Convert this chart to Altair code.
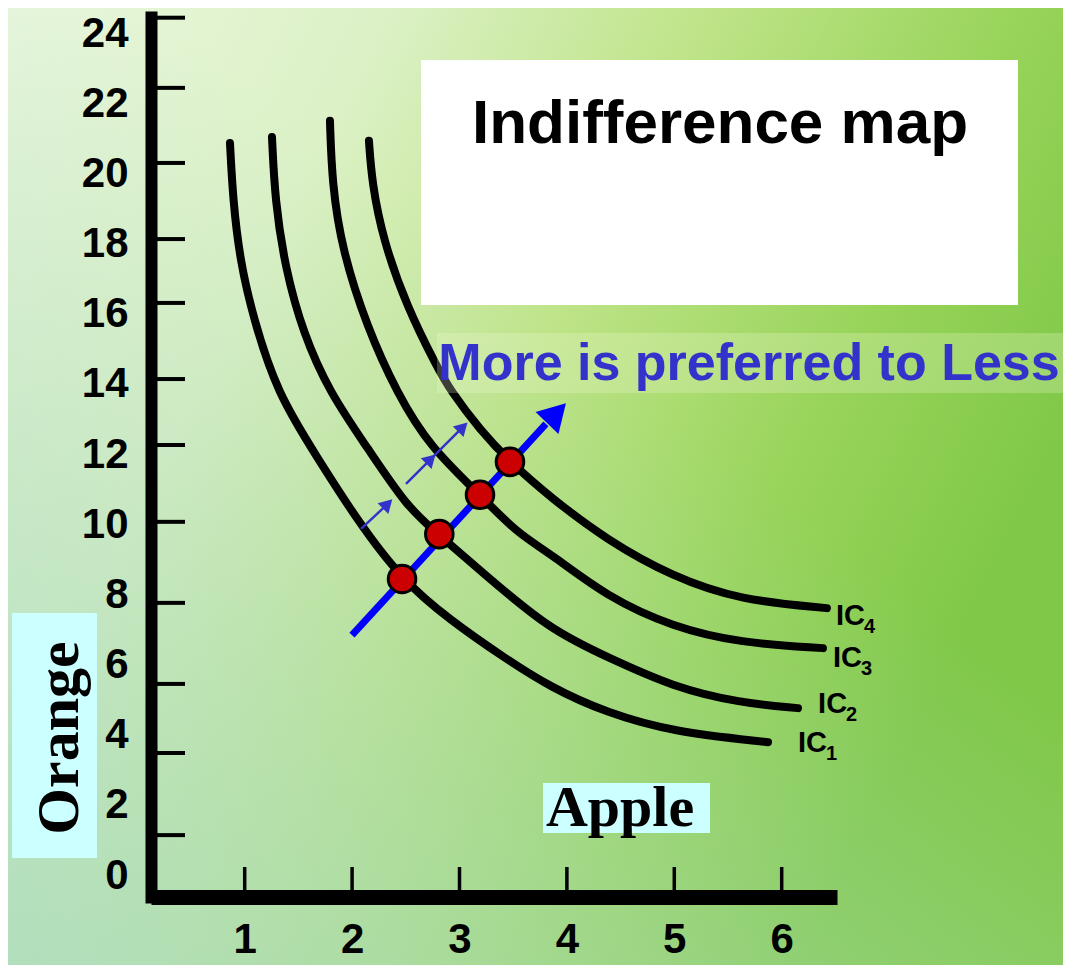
import altair as alt
import pandas as pd

# ---------------- data ----------------
ic1_x = [0.863, 0.891, 0.956, 1.077, 1.301, 1.673, 2.046, 2.465, 2.912, 3.405, 3.843, 4.374, 4.988, 5.873]
ic1_y = [20.81, 19.18, 17.47, 15.85, 13.68, 11.86, 10.06, 8.35, 7.21, 6.16, 5.30, 4.56, 4.02, 3.73]
ic2_x = [1.254, 1.282, 1.375, 1.543, 1.794, 2.139, 2.511, 2.800, 3.219, 3.842, 4.373, 4.988, 5.611, 6.152]
ic2_y = [20.98, 19.18, 17.27, 15.39, 13.68, 12.14, 10.43, 9.66, 8.55, 6.93, 6.16, 5.30, 4.85, 4.70]
ic3_x = [1.794, 1.813, 1.906, 2.139, 2.418, 2.725, 3.191, 3.535, 3.842, 4.373, 4.988, 5.611, 6.384]
ic3_y = [21.44, 19.67, 17.76, 15.56, 13.68, 12.14, 10.78, 9.69, 9.12, 7.87, 7.01, 6.56, 6.41]
ic4_x = [2.157, 2.185, 2.288, 2.511, 2.791, 2.912, 3.191, 3.470, 3.842, 4.373, 4.988, 5.611, 6.421]
ic4_y = [20.87, 19.67, 18.05, 16.13, 14.42, 13.77, 12.63, 11.72, 10.72, 9.49, 8.44, 7.78, 7.55]

bundle_x = [2.465, 2.812, 3.191, 3.470]
bundle_y = [8.38, 9.66, 10.78, 11.72]

big_arrow = {"x": [1.999], "y": [6.78], "x2": [3.805], "y2": [12.80]}
big_head = {"x": [3.903], "y": [13.11]}
small_arrows = {"x": [2.083, 2.502], "y": [9.81, 11.09], "x2": [2.290, 2.991], "y2": [10.40, 12.59]}
small_heads = {"x": [2.331, 2.733, 3.031], "y": [10.52, 11.80, 12.71]}

ic_label_x = [6.152, 6.339, 6.478, 6.506]
ic_label_y = [3.45, 4.56, 5.87, 7.07]
ic_names = ["IC", "IC", "IC", "IC"]
ic_subs = ["1", "2", "3", "4"]

x_tick_labels = [1, 2, 3, 4, 5, 6]
y_tick_labels = [0, 2, 4, 6, 8, 10, 12, 14, 16, 18, 20, 22, 24]
y_tick_marks = [1.08, 3.42, 5.39, 7.70, 10.01, 12.20, 14.08, 16.25, 18.07, 20.24, 22.38, 24.38]

title_text = "Indifference map"
note_text = "More is preferred to Less"
x_title = "Apple"
y_title = "Orange"

# ---------------- layout ----------------
W, H = 686, 880
PL, PT, PR, PB = 143, 9, 226, 68

x_scale = alt.Scale(domain=[0.1276, 6.515], nice=False, zero=False)
y_scale = alt.Scale(domain=[-0.684, 24.40], nice=False, zero=False)

lab_font = "Liberation Sans"
x_axis = alt.Axis(values=x_tick_labels, ticks=False, grid=False, title=None,
                  domainColor="black", domainWidth=15, domainCap="butt",
                  labelFont=lab_font, labelFontWeight="bold", labelFontSize=42,
                  labelColor="black", labelPadding=22, labelFlush=False,
                  labelOverlap=False, zindex=1)
y_axis = alt.Axis(values=y_tick_labels, ticks=False, grid=False, title=None,
                  domainColor="black", domainWidth=12, domainCap="square",
                  labelFont=lab_font, labelFontWeight="bold", labelFontSize=42,
                  labelColor="black", labelPadding=23, labelFlush=False,
                  labelOffset=2, labelOverlap=False, zindex=1)


def X(f="x"):
    return alt.X(f"{f}:Q", scale=x_scale, axis=x_axis)


def Y(f="y"):
    return alt.Y(f"{f}:Q", scale=y_scale, axis=y_axis)


one = pd.DataFrame({"a": [0]})

# background
bg = alt.Chart(one).mark_rect(
    fill=alt.Gradient(
        gradient="linear", x1=0, y1=0, x2=1, y2=0.45,
        stops=[
            alt.GradientStop(color="#eaf7de", offset=0),
            alt.GradientStop(color="#dcf1c6", offset=0.3),
            alt.GradientStop(color="#bfe489", offset=0.55),
            alt.GradientStop(color="#98d45a", offset=0.8),
            alt.GradientStop(color="#80c848", offset=1),
        ],
    )
).encode(x=alt.value(-PL), x2=alt.value(W + PR), y=alt.value(-PT), y2=alt.value(H + PB))

bg2 = alt.Chart(one).mark_rect(
    fill=alt.Gradient(
        gradient="linear", x1=0, y1=1, x2=0.55, y2=0.35,
        stops=[
            alt.GradientStop(color="rgba(172,220,190,0.85)", offset=0),
            alt.GradientStop(color="rgba(172,220,190,0)", offset=1),
        ],
    )
).encode(x=alt.value(-PL), x2=alt.value(W + PR), y=alt.value(-PT), y2=alt.value(H + PB))

# curves
rows = []
for name, xs, ys in [("IC1", ic1_x, ic1_y), ("IC2", ic2_x, ic2_y),
                     ("IC3", ic3_x, ic3_y), ("IC4", ic4_x, ic4_y)]:
    for a, b in zip(xs, ys):
        rows.append({"curve": name, "x": a, "y": b})
curves_df = pd.DataFrame(rows)

curves = alt.Chart(curves_df).mark_line(
    color="black", strokeWidth=8, strokeCap="round", interpolate="basis"
).encode(x=X(), y=Y(), detail="curve:N", order="x:Q")

# tick marks (inward)
ytick_df = pd.DataFrame({"y": y_tick_marks})
yticks = alt.Chart(ytick_df).mark_rule(color="black", strokeWidth=4).encode(
    y=Y(), x=alt.value(6), x2=alt.value(34))
xtick_df = pd.DataFrame({"x": x_tick_labels})
xticks = alt.Chart(xtick_df).mark_rule(color="black", strokeWidth=3.5).encode(
    x=X(), y=alt.value(H - 30), y2=alt.value(H - 7))

# arrows
big_df = pd.DataFrame(big_arrow)
big_line = alt.Chart(big_df).mark_rule(color="#0000ff", strokeWidth=7).encode(
    x=X(), y=Y(), x2="x2:Q", y2="y2:Q")
big_head_m = alt.Chart(pd.DataFrame(big_head)).mark_point(
    shape="triangle-up", filled=True, color="#0000ff", opacity=1, size=1000, angle=43.7
).encode(x=X(), y=Y())

sm_df = pd.DataFrame(small_arrows)
sm_lines = alt.Chart(sm_df).mark_rule(color="#3333cc", strokeWidth=2.5).encode(
    x=X(), y=Y(), x2="x2:Q", y2="y2:Q")
sm_heads = alt.Chart(pd.DataFrame(small_heads)).mark_point(
    shape="triangle-up", filled=True, color="#3333cc", opacity=1, size=230, angle=45
).encode(x=X(), y=Y())

# bundles
pts = alt.Chart(pd.DataFrame({"x": bundle_x, "y": bundle_y})).mark_point(
    shape="circle", filled=True, fill="#cc0000", stroke="black", strokeWidth=3,
    size=760, opacity=1
).encode(x=X(), y=Y())

# IC labels
ic_df = pd.DataFrame({"x": ic_label_x, "y": ic_label_y, "t": ic_names, "s": ic_subs})
ic_text = alt.Chart(ic_df).mark_text(
    font=lab_font, fontWeight="bold", fontSize=29, align="left", baseline="alphabetic",
    color="black"
).encode(x=X(), y=Y(), text="t:N")
ic_sub = alt.Chart(ic_df).mark_text(
    font=lab_font, fontWeight="bold", fontSize=20, align="left", baseline="alphabetic",
    color="black", dx=28, dy=8
).encode(x=X(), y=Y(), text="s:N")

# title box (positions relative to the plot origin)
tbox = alt.Chart(one).mark_rect(fill="white").encode(
    x=alt.value(270), x2=alt.value(867), y=alt.value(43), y2=alt.value(288))
ttext = alt.Chart(one).mark_text(
    text=title_text, font=lab_font, fontWeight="bold", fontSize=62,
    align="center", baseline="alphabetic", color="black"
).encode(x=alt.value(569), y=alt.value(126))

band = alt.Chart(one).mark_rect(fill="#f4fbd8", opacity=0.25).encode(
    x=alt.value(286), x2=alt.value(920), y=alt.value(316), y2=alt.value(376))
note = alt.Chart(one).mark_text(
    text=note_text, font=lab_font, fontWeight="bold", fontSize=52,
    align="center", baseline="alphabetic", color="#3333cc"
).encode(x=alt.value(598), y=alt.value(363))

# axis titles in boxes
abox = alt.Chart(one).mark_rect(fill="#ccffff").encode(
    x=alt.value(392), x2=alt.value(559), y=alt.value(766), y2=alt.value(816))
atext = alt.Chart(one).mark_text(
    text=x_title, font="Liberation Serif", fontWeight="bold", fontSize=58,
    align="center", baseline="alphabetic", color="black"
).encode(x=alt.value(469), y=alt.value(809))

obox = alt.Chart(one).mark_rect(fill="#ccffff").encode(
    x=alt.value(-139), x2=alt.value(-54), y=alt.value(596), y2=alt.value(841))
otext = alt.Chart(one).mark_text(
    text=y_title, font="Liberation Serif", fontWeight="bold", fontSize=60,
    align="center", baseline="alphabetic", color="black", angle=270
).encode(x=alt.value(-73), y=alt.value(721))

chart = alt.layer(
    bg, bg2, yticks, xticks, curves, big_line, big_head_m, sm_lines, sm_heads, pts,
    ic_text, ic_sub, tbox, ttext, band, note, abox, atext, obox, otext
).properties(
    width=W, height=H,
    autosize=alt.AutoSizeParams(type="none"),
    padding={"left": PL, "top": PT, "right": PR, "bottom": PB},
).configure_view(stroke=None)

chart.save("out.html", embed_options={"renderer": "svg", "actions": False})
